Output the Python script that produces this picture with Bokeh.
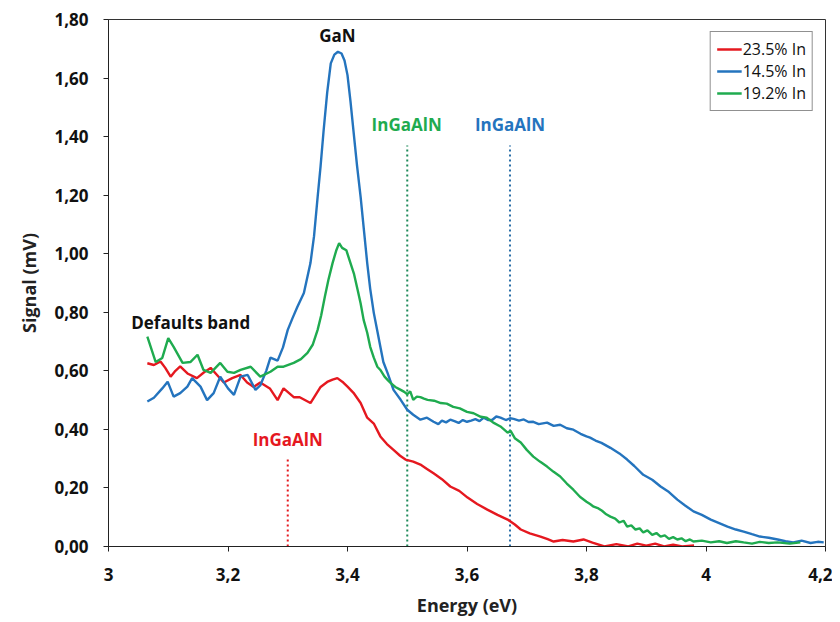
from bokeh.plotting import figure
from bokeh.models import ColumnDataSource, CustomJSTickFormatter, FixedTicker, Legend, LegendItem
from bokeh.core.properties import value
from bokeh.embed import file_html
from bokeh.resources import INLINE

# ---- data ----
red_x = [3.065, 3.076, 3.087, 3.095, 3.104, 3.112, 3.12, 3.133, 3.148, 3.16, 3.171, 3.182, 3.193, 3.207, 3.221,
         3.232, 3.243, 3.254, 3.27, 3.283, 3.293, 3.31, 3.32, 3.338, 3.355, 3.366, 3.375, 3.383, 3.393, 3.4, 3.41,
         3.422, 3.433, 3.444, 3.455, 3.466, 3.477, 3.488, 3.497, 3.51, 3.522, 3.533, 3.544, 3.558, 3.572, 3.587,
         3.601, 3.617, 3.634, 3.651, 3.668, 3.68, 3.69, 3.705, 3.723, 3.735, 3.745, 3.76, 3.778, 3.795, 3.81,
         3.83, 3.85, 3.87, 3.885, 3.9, 3.915, 3.93, 3.945, 3.96, 3.98]
red_y = [0.626, 0.62, 0.632, 0.61, 0.58, 0.6, 0.615, 0.59, 0.575, 0.595, 0.61, 0.585, 0.56, 0.575, 0.586,
         0.56, 0.545, 0.56, 0.54, 0.50, 0.54, 0.51, 0.51, 0.49, 0.545, 0.562, 0.57, 0.575, 0.56, 0.546, 0.525,
         0.49, 0.44, 0.42, 0.376, 0.35, 0.33, 0.31, 0.297, 0.29, 0.28, 0.265, 0.25, 0.23, 0.205, 0.19,
         0.167, 0.145, 0.126, 0.108, 0.092, 0.075, 0.058, 0.045, 0.034, 0.025, 0.017, 0.022, 0.017, 0.024, 0.013,
         0.0, 0.008, 0.0, 0.01, 0.003, 0.01, 0.0, 0.006, 0.0, 0.004]

blue_x = [3.065, 3.076, 3.09, 3.099, 3.109, 3.12, 3.132, 3.14, 3.154, 3.165, 3.176, 3.187, 3.2, 3.21, 3.221,
          3.233, 3.246, 3.254, 3.264, 3.271, 3.283, 3.292, 3.3, 3.308, 3.316, 3.327, 3.338, 3.344, 3.35, 3.355,
          3.36, 3.366, 3.372, 3.378, 3.384, 3.39, 3.395, 3.4, 3.405, 3.41, 3.416, 3.422, 3.428, 3.433, 3.438,
          3.444, 3.45, 3.455, 3.46, 3.467, 3.477, 3.489, 3.5, 3.51, 3.522, 3.533, 3.544, 3.552, 3.558, 3.565,
          3.572, 3.579, 3.586, 3.593, 3.6, 3.607, 3.614, 3.621, 3.628, 3.635, 3.642, 3.649, 3.656, 3.665, 3.672,
          3.678, 3.687, 3.695, 3.703, 3.711, 3.72, 3.734, 3.745, 3.756, 3.767, 3.778, 3.79, 3.8, 3.806, 3.815,
          3.825, 3.84, 3.855, 3.868, 3.88, 3.895, 3.91, 3.924, 3.938, 3.952, 3.965, 3.979, 3.993, 4.008, 4.022,
          4.036, 4.05, 4.063, 4.077, 4.09, 4.105, 4.12, 4.133, 4.146, 4.16, 4.175, 4.187, 4.197]
blue_y = [0.495, 0.508, 0.54, 0.563, 0.512, 0.524, 0.546, 0.575, 0.546, 0.5, 0.524, 0.58, 0.54, 0.518, 0.58,
          0.586, 0.535, 0.55, 0.6, 0.645, 0.635, 0.68, 0.74, 0.78, 0.818, 0.866, 0.968, 1.06, 1.193, 1.3,
          1.42, 1.55, 1.65, 1.68, 1.69, 1.684, 1.66, 1.61, 1.52, 1.42, 1.3, 1.193, 1.07, 0.968, 0.88,
          0.798, 0.735, 0.682, 0.63, 0.593, 0.535, 0.501, 0.467, 0.45, 0.433, 0.44, 0.426, 0.418, 0.43, 0.424,
          0.433, 0.428, 0.422, 0.432, 0.426, 0.43, 0.435, 0.428, 0.44, 0.432, 0.432, 0.444, 0.44, 0.432, 0.438,
          0.436, 0.43, 0.434, 0.425, 0.426, 0.418, 0.423, 0.412, 0.416, 0.404, 0.399, 0.385, 0.376, 0.372, 0.362,
          0.354, 0.337, 0.318, 0.297, 0.275, 0.245, 0.228, 0.205, 0.186, 0.16, 0.14, 0.12, 0.108, 0.092, 0.08,
          0.068, 0.058, 0.051, 0.042, 0.034, 0.03, 0.024, 0.018, 0.014, 0.02, 0.012, 0.016, 0.014]

green_x = [3.065, 3.079, 3.09, 3.1, 3.109, 3.124, 3.137, 3.149, 3.159, 3.171, 3.187, 3.199, 3.21, 3.221, 3.238,
           3.254, 3.271, 3.283, 3.293, 3.31, 3.322, 3.333, 3.342, 3.35, 3.356, 3.362, 3.368, 3.375, 3.381, 3.386,
           3.391, 3.398, 3.405, 3.411, 3.417, 3.422, 3.427, 3.433, 3.438, 3.444, 3.45, 3.455, 3.462, 3.467,
           3.472, 3.48, 3.489, 3.495, 3.5, 3.505, 3.51, 3.516, 3.522, 3.528, 3.534, 3.545, 3.556, 3.566, 3.577,
           3.588, 3.6, 3.611, 3.623, 3.633, 3.644, 3.656, 3.668, 3.673, 3.68, 3.69, 3.7, 3.711, 3.722, 3.734,
           3.745, 3.756, 3.767, 3.778, 3.789, 3.8, 3.806, 3.812, 3.82, 3.826, 3.833, 3.84, 3.848, 3.855, 3.862,
           3.868, 3.875, 3.882, 3.889, 3.895, 3.902, 3.91, 3.917, 3.924, 3.931, 3.938, 3.945, 3.952, 3.959, 3.966,
           3.973, 3.979, 3.993, 4.008, 4.022, 4.035, 4.05, 4.063, 4.077, 4.09, 4.105, 4.12, 4.14, 4.158]
green_y = [0.717, 0.63, 0.644, 0.712, 0.682, 0.627, 0.63, 0.655, 0.603, 0.593, 0.627, 0.597, 0.593, 0.603, 0.614,
           0.58, 0.597, 0.614, 0.614, 0.627, 0.64, 0.661, 0.69, 0.74, 0.79, 0.852, 0.91, 0.968, 1.01, 1.036,
           1.02, 1.012, 0.968, 0.93, 0.876, 0.83, 0.774, 0.73, 0.682, 0.645, 0.614, 0.603, 0.58, 0.569,
           0.559, 0.545, 0.535, 0.528, 0.52, 0.53, 0.501, 0.512, 0.51, 0.505, 0.501, 0.498, 0.49, 0.488, 0.477,
           0.472, 0.46, 0.455, 0.443, 0.44, 0.423, 0.41, 0.389, 0.395, 0.37, 0.355, 0.33, 0.307, 0.29, 0.273,
           0.255, 0.239, 0.215, 0.194, 0.17, 0.153, 0.145, 0.136, 0.13, 0.122, 0.11, 0.102, 0.095, 0.082, 0.088,
           0.068, 0.072, 0.058, 0.062, 0.048, 0.055, 0.04, 0.046, 0.034, 0.038, 0.026, 0.032, 0.024, 0.028, 0.018,
           0.024, 0.017, 0.02, 0.014, 0.018, 0.012, 0.018, 0.014, 0.01, 0.016, 0.012, 0.014, 0.01, 0.014]

series_labels = ["23.5% In", "14.5% In", "19.2% In"]
series_colors = ["#e5181f", "#2474be", "#1fab4f"]

x_ticks = [3.0, 3.2, 3.4, 3.6, 3.8, 4.0, 4.2]
y_ticks = [0.0, 0.2, 0.4, 0.6, 0.8, 1.0, 1.2, 1.4, 1.6, 1.8]

# annotations
ann_text = ["GaN", "Defaults band", "InGaAlN", "InGaAlN", "InGaAlN"]
ann_x = [3.383, 3.038, 3.30, 3.499, 3.672]
ann_y = [1.745, 0.765, 0.365, 1.44, 1.44]
ann_color = ["#111111", "#111111", "#e5181f", "#1fab4f", "#2474be"]
ann_align = ["center", "left", "center", "center", "center"]

marker_x = [3.30, 3.50, 3.672]
marker_top = [0.30, 1.37, 1.37]
marker_color = ["#e5181f", "#1f8a5a", "#2a6fa8"]

FONT = "Open Sans"

p = figure(width=832, height=619, output_backend="svg", toolbar_location=None,
           x_range=(3.0, 4.2), y_range=(0.0, 1.8),
           min_border_left=108, min_border_right=7, min_border_top=19, min_border_bottom=72)
p.background_fill_color = "white"
p.border_fill_color = "white"
p.outline_line_color = "#333333"
p.outline_line_width = 1
p.xgrid.visible = False
p.ygrid.visible = False

fmt_y = CustomJSTickFormatter(code="return tick.toFixed(2).replace('.', ',');")
fmt_x = CustomJSTickFormatter(code="return (Math.round(tick*10)/10).toString().replace('.', ',');")

p.xaxis.ticker = FixedTicker(ticks=x_ticks)
p.yaxis.ticker = FixedTicker(ticks=y_ticks)
p.xaxis.formatter = fmt_x
p.yaxis.formatter = fmt_y

for ax in (p.xaxis[0], p.yaxis[0]):
    ax.major_tick_in = 0
    ax.major_tick_out = 5
    ax.minor_tick_in = 0
    ax.minor_tick_out = 0
    ax.axis_line_color = "#222222"
    ax.major_tick_line_color = "#222222"
    ax.major_label_text_font = FONT
    ax.major_label_text_font_style = "bold"
    ax.major_label_text_font_size = "17px"
    ax.major_label_text_color = "#111111"
    ax.axis_label_text_font = FONT
    ax.axis_label_text_font_style = "bold"
    ax.axis_label_text_font_size = "18px"
    ax.axis_label_text_color = "#222222"

p.xaxis.axis_label = "Energy (eV)"
p.yaxis.axis_label = "Signal (mV)"
p.xaxis.major_label_standoff = 16
p.xaxis.axis_label_standoff = 9
p.yaxis.major_label_standoff = 15
p.yaxis.axis_label_standoff = 10

# marker lines
msrc = ColumnDataSource(dict(x=marker_x, top=marker_top, c=marker_color, y0=[0.0] * len(marker_x)))
p.segment(x0="x", y0="y0", x1="x", y1="top", line_color="c", line_width=2, line_dash="2 3", source=msrc)

renderers = []
for xs, ys, c in [(red_x, red_y, series_colors[0]), (blue_x, blue_y, series_colors[1]), (green_x, green_y, series_colors[2])]:
    r = p.line(xs, ys, line_color=c, line_width=2.4)
    renderers.append(r)

asrc = ColumnDataSource(dict(x=ann_x, y=ann_y, t=ann_text, c=ann_color, a=ann_align))
p.text(x="x", y="y", text="t", text_color="c", text_align="a", text_baseline="middle",
       text_font=value(FONT), text_font_style="bold", text_font_size="17px", source=asrc)

legend = Legend(items=[LegendItem(label=lab, renderers=[r]) for lab, r in zip(series_labels, renderers)],
                location="top_right")
legend.margin = 12
legend.padding = 6
legend.spacing = 0
legend.label_height = 20
legend.glyph_height = 20
legend.glyph_width = 25
legend.label_standoff = 1
legend.label_text_font = FONT
legend.label_text_font_size = "16px"
legend.label_text_color = "#111111"
legend.border_line_color = "#222222"
legend.border_line_width = 1
legend.background_fill_color = "white"
legend.background_fill_alpha = 1
p.add_layout(legend)

open("out.html", "w").write(file_html(p, INLINE))
